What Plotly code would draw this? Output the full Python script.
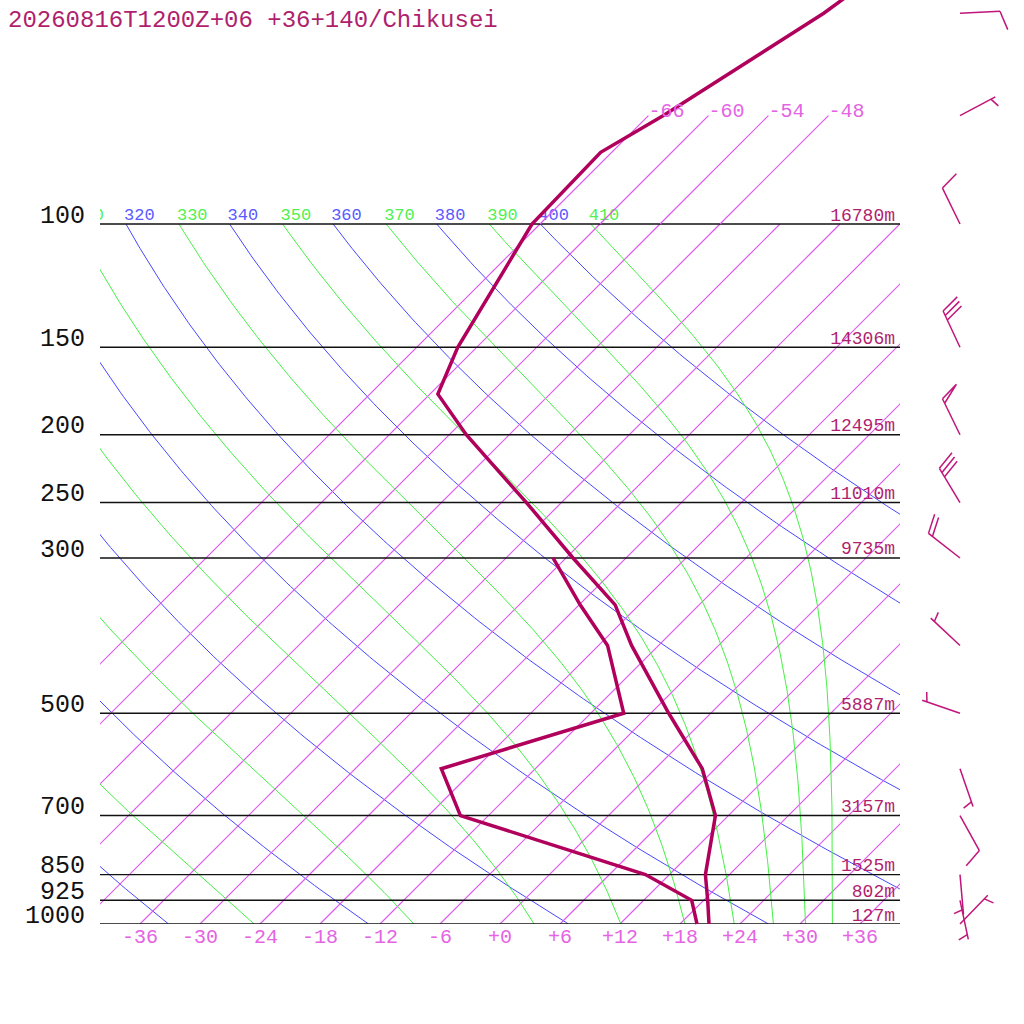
import numpy as np
import plotly.graph_objects as go

title = "20260816T1200Z+06 +36+140/Chikusei"

# temperature profile (hPa, degC)
pres = [1000, 925, 850, 700, 600, 500, 400, 350, 300, 250, 200, 175, 150, 100, 79, 70, 50, 30]
temp = [20.9, 18.4, 15.6, 10.7, 4.7, -4.2, -14.7, -20.4, -29.3, -39.5, -52.3, -59.2, -61.9,
        -66.8, -67.1, -64.5, -58.7, -53.0]

# dew point profile
dew_pres = [1000, 925, 850, 700, 600, 500, 400, 350, 300]
dewp = [19.7, 16.8, 9.6, -14.8, -21.4, -8.7, -17.1, -23.9, -31.3]

# winds (direction from, knots)
wind_pres = [1000, 925, 850, 700, 600, 500, 400, 300, 250, 200, 150, 100, 70, 50]
wind_dir = [44, 168, 175, 151, 161, 289, 313, 308, 329, 334, 335, 334, 62, 87]
wind_kt = [5, 5, 5, 10, 5, 5, 5, 20, 30, 50, 30, 10, 5, 10]

# standard levels and heights
std_levels = [1000, 925, 850, 700, 500, 300, 250, 200, 150, 100]
heights = [127, 802, 1525, 3157, 5887, 9735, 11010, 12495, 14306, 16780]

isotherms = list(range(-66, 37, 6))
upper_isotherms = [-66, -60, -54, -48]
temp_ticks = list(range(-36, 37, 6))
dry_thetas = list(range(240, 401, 20))
moist_thetas = list(range(250, 411, 20))

SKEW = 70.0  # degC per decade of pressure
FONT = "Liberation Mono"
ISO_COL = "#de58f0"
ISO_LAB = "#e464e4"
BLUE = "#4848ff"
GREEN = "#44f044"
PROF_COL = "#b0005c"
BARB_COL = "#c0157a"
HGT_COL = "#b01f6e"


def skew_x(t, p):
    return np.asarray(t) + SKEW * np.log10(1000.0 / np.asarray(p, dtype=float))


def theta_e(tk, p):
    # Bolton (1980), saturated air
    tc = tk - 273.15
    es = 6.112 * np.exp(17.67 * tc / (tc + 243.5))
    r = 622.0 * es / (p - es)
    th = tk * (1000.0 / p) ** (0.2854 * (1 - 0.28e-3 * r))
    return th * np.exp((3.376 / tk - 0.00254) * r * (1 + 0.81e-3 * r))


def moist_temp(the, p):
    lo = np.full_like(p, 150.0)
    hi = 200 + 120 * (p / 1000.0) ** 0.286
    for _ in range(50):
        mid = 0.5 * (lo + hi)
        above = theta_e(mid, p) > the
        hi = np.where(above, mid, hi)
        lo = np.where(above, lo, mid)
    return 0.5 * (lo + hi) - 273.15


# pixel helpers for the full-page axes (x2/y2)
def py_of(p):
    return 924 - 700 * np.log10(1000.0 / p)


def to_data(px, py):
    return (px - 500) / 10.0, 1000.0 * 10 ** (-(924 - py) / 700.0)


fig = go.Figure()
plev = np.logspace(3, 2, 200)

# dry adiabats
lab_x, lab_t, lab_c = [], [], []
for th in dry_thetas:
    tc = th * (plev / 1000.0) ** 0.2857 - 273.15
    xs = skew_x(tc, plev)
    fig.add_trace(go.Scatter(x=xs, y=plev, mode="lines", line=dict(color=BLUE, width=1),
                             hoverinfo="skip"))
    if xs[-1] > -45:
        lab_x.append(xs[-1] - 0.2); lab_t.append(str(th)); lab_c.append("#5a5aff")

# isotherms (1000 to 100 hPa, clipped to the box)
iso_x, iso_y = [], []
for t in isotherms:
    iso_x += [float(t), float(skew_x(t, 100)), None]
    iso_y += [1000.0, 100.0, None]
fig.add_trace(go.Scatter(x=iso_x, y=iso_y, mode="lines", opacity=0.99,
                         line=dict(color=ISO_COL, width=1.2), hoverinfo="skip"))

# moist adiabats (theta-e)
for th in moist_thetas:
    tc = moist_temp(th, plev)
    xs = skew_x(tc, plev)
    fig.add_trace(go.Scatter(x=xs, y=plev, mode="lines", line=dict(color=GREEN, width=1),
                             hoverinfo="skip"))
    if xs[-1] > -45:
        lab_x.append(xs[-1] - 0.2); lab_t.append(str(th)); lab_c.append("#50f050")

fig.add_trace(go.Scatter(x=lab_x, y=[100] * len(lab_x), mode="text", text=lab_t,
                         textposition="top right", cliponaxis=True,
                         textfont=dict(family=FONT, size=17, color=lab_c), hoverinfo="skip"))

# isobars
bar_x, bar_y = [], []
for p in std_levels:
    bar_x += [-40, 40, None]; bar_y += [p, p, None]
fig.add_trace(go.Scatter(x=bar_x, y=bar_y, mode="lines",
                         line=dict(color="#111111", width=1.4), hoverinfo="skip"))

# ---- full page axes ----
# upper isotherms (100 to 70 hPa)
up_x, up_y = [], []
for t in upper_isotherms:
    up_x += [float(skew_x(t, 100)), float(skew_x(t, 70)), None]
    up_y += [100.0, 70.0, None]
fig.add_trace(go.Scatter(x=up_x, y=up_y, mode="lines", xaxis="x2", yaxis="y2", opacity=0.99,
                         line=dict(color=ISO_COL, width=1.2), hoverinfo="skip"))

fig.add_trace(go.Scatter(x=skew_x(temp, pres), y=pres, mode="lines", xaxis="x2", yaxis="y2",
                         line=dict(color=PROF_COL, width=3.5), hoverinfo="skip"))
fig.add_trace(go.Scatter(x=skew_x(dewp, dew_pres), y=dew_pres, mode="lines", xaxis="x2",
                         yaxis="y2", line=dict(color=PROF_COL, width=3.5), hoverinfo="skip"))

# wind barbs
for p, d, spd in zip(wind_pres, wind_dir, wind_kt):
    bx, by = 960.0, py_of(p)
    ux, uy = np.sin(np.radians(d)), -np.cos(np.radians(d))
    ang = np.arctan2(uy, ux) + np.radians(70)
    vx, vy = np.cos(ang), np.sin(ang)
    tx, ty = bx + 40 * ux, by + 40 * uy
    pts = [(bx, by), (tx, ty), None]
    n50, rem = divmod(spd, 50)
    n10, rem = divmod(rem, 10)
    n5 = rem // 5
    pos = 0.0
    for _ in range(n50):
        ax_, ay_ = tx - pos * ux, ty - pos * uy
        pts += [(ax_, ay_), (ax_ + 20 * vx, ay_ + 20 * vy),
                (tx - (pos + 5) * ux, ty - (pos + 5) * uy), None]
        pos += 7
    for _ in range(n10):
        ax_, ay_ = tx - pos * ux, ty - pos * uy
        pts += [(ax_, ay_), (ax_ + 20 * vx, ay_ + 20 * vy), None]
        pos += 5
    if n5:
        if pos == 0:
            pos = 5
        ax_, ay_ = tx - pos * ux, ty - pos * uy
        pts += [(ax_, ay_), (ax_ + 10 * vx, ay_ + 10 * vy), None]
    xs, ys = [], []
    for q in pts:
        if q is None:
            xs.append(None); ys.append(None)
        else:
            dx, dy = to_data(*q)
            xs.append(dx); ys.append(dy)
    fig.add_trace(go.Scatter(x=xs, y=ys, mode="lines", xaxis="x2", yaxis="y2",
                             line=dict(color=BARB_COL, width=1.5), hoverinfo="skip"))

# pressure labels
fig.add_trace(go.Scatter(x=[to_data(85, 0)[0]] * len(std_levels),
                         y=[to_data(0, py_of(p) + 5)[1] for p in std_levels], mode="text",
                         text=[str(p) for p in std_levels], textposition="top left",
                         xaxis="x2", yaxis="y2", cliponaxis=False,
                         textfont=dict(family=FONT, size=25, color="#111111"), hoverinfo="skip"))
# height labels
fig.add_trace(go.Scatter(x=[to_data(895, 0)[0]] * len(std_levels),
                         y=[to_data(0, py_of(p) + 1)[1] for p in std_levels], mode="text",
                         text=[f"{h}m" for h in heights], textposition="top left",
                         xaxis="x2", yaxis="y2", cliponaxis=False,
                         textfont=dict(family=FONT, size=18, color=HGT_COL), hoverinfo="skip"))
# bottom temperature ticks
fig.add_trace(go.Scatter(x=temp_ticks, y=[to_data(0, 938)[1]] * len(temp_ticks), mode="text",
                         text=[f"{t:+d}" for t in temp_ticks],
                         textposition="middle center", xaxis="x2", yaxis="y2", cliponaxis=False,
                         textfont=dict(family=FONT, size=20, color=ISO_LAB), hoverinfo="skip"))
# upper isotherm labels
fig.add_trace(go.Scatter(x=[float(skew_x(t, 70)) for t in upper_isotherms],
                         y=[to_data(0, py_of(70) + 6)[1]] * len(upper_isotherms), mode="text",
                         text=[str(t) for t in upper_isotherms], textposition="top right",
                         xaxis="x2", yaxis="y2", cliponaxis=False,
                         textfont=dict(family=FONT, size=20, color=ISO_LAB), hoverinfo="skip"))

top1 = (1024 - py_of(70)) / 1024
fig.update_layout(
    width=1024, height=1024,
    margin=dict(l=0, r=0, t=0, b=0, pad=0, autoexpand=False),
    paper_bgcolor="white", plot_bgcolor="rgba(0,0,0,0)", showlegend=False,
    xaxis=dict(domain=[100 / 1024, 900 / 1024], range=[-40, 40], visible=False),
    yaxis=dict(domain=[100 / 1024, top1], type="log", range=[3, np.log10(70)], visible=False),
    xaxis2=dict(domain=[0, 1], range=[-50, 52.4], visible=False, anchor="y2"),
    yaxis2=dict(domain=[0, 1], type="log", range=[3 + 100 / 700, 3 - 924 / 700],
                visible=False, anchor="x2"),
    annotations=[dict(text=title, xref="paper", yref="paper", x=6 / 1024, y=1 - 5 / 1024,
                      xanchor="left", yanchor="top", showarrow=False,
                      font=dict(family=FONT, size=24, color=HGT_COL))],
)

fig.write_html("out.html", config={"displayModeBar": False},
               post_script="document.body.style.margin='0px';")
